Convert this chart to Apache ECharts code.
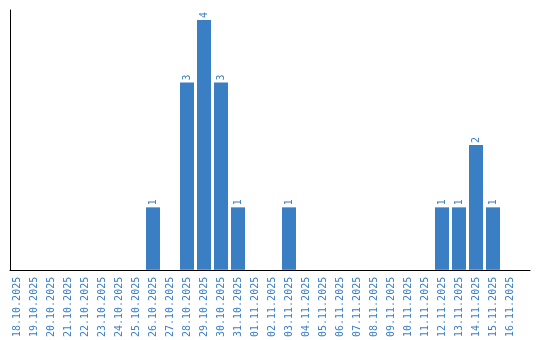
<!DOCTYPE html>
<html><head><meta charset="utf-8">
<script src="https://cdn.jsdelivr.net/npm/echarts@6/dist/echarts.min.js"></script>
<style>html,body{margin:0;padding:0;background:#fff}#c{width:540px;height:340px}</style>
</head><body><div id="c"></div>
<script>
var categories = ["18.10.2025","19.10.2025","20.10.2025","21.10.2025","22.10.2025","23.10.2025","24.10.2025","25.10.2025","26.10.2025","27.10.2025","28.10.2025","29.10.2025","30.10.2025","31.10.2025","01.11.2025","02.11.2025","03.11.2025","04.11.2025","05.11.2025","06.11.2025","07.11.2025","08.11.2025","09.11.2025","10.11.2025","11.11.2025","12.11.2025","13.11.2025","14.11.2025","15.11.2025","16.11.2025"];
var counts = [0,0,0,0,0,0,0,0,1,0,3,4,3,1,0,0,1,0,0,0,0,0,0,0,0,1,1,2,1,0];

var blue = '#3a7fc4';
var idx = categories.map(function(_, i){ return i; });
var data = counts.map(function(v, i){ return v > 0 ? [i, v] : null; }).filter(Boolean);

var chart = echarts.init(document.getElementById('c'), null, {renderer:'canvas'});
chart.setOption({
  animation: false,
  grid: {left: 10, right: 10, top: 10, bottom: 70, containLabel: false},
  xAxis: {
    type: 'value', min: -7/17, max: 513/17,
    axisLine: {show: true, onZero: false, lineStyle: {color: '#000', width: 1}},
    axisTick: {show: false},
    splitLine: {show: false},
    axisLabel: {
      customValues: idx,
      rotate: 90, margin: 7,
      color: blue, fontFamily: 'DejaVu Sans Mono', fontSize: 10,
      formatter: function(v){ return categories[Math.round(v)] || ''; }
    }
  },
  yAxis: {
    type: 'value', min: 0, max: 4.16,
    axisLine: {show: true, onZero: false, lineStyle: {color: '#000', width: 1}},
    axisTick: {show: false},
    axisLabel: {show: false},
    splitLine: {show: false}
  },
  series: [{
    type: 'bar',
    data: data,
    barWidth: 14,
    itemStyle: {color: blue},
    label: {
      show: true, position: 'top', rotate: 90, align: 'left', verticalAlign: 'middle',
      distance: 2, color: blue, fontFamily: 'DejaVu Sans Mono', fontSize: 10,
      formatter: function(p){ return p.value[1]; }
    }
  }]
});
</script></body></html>
